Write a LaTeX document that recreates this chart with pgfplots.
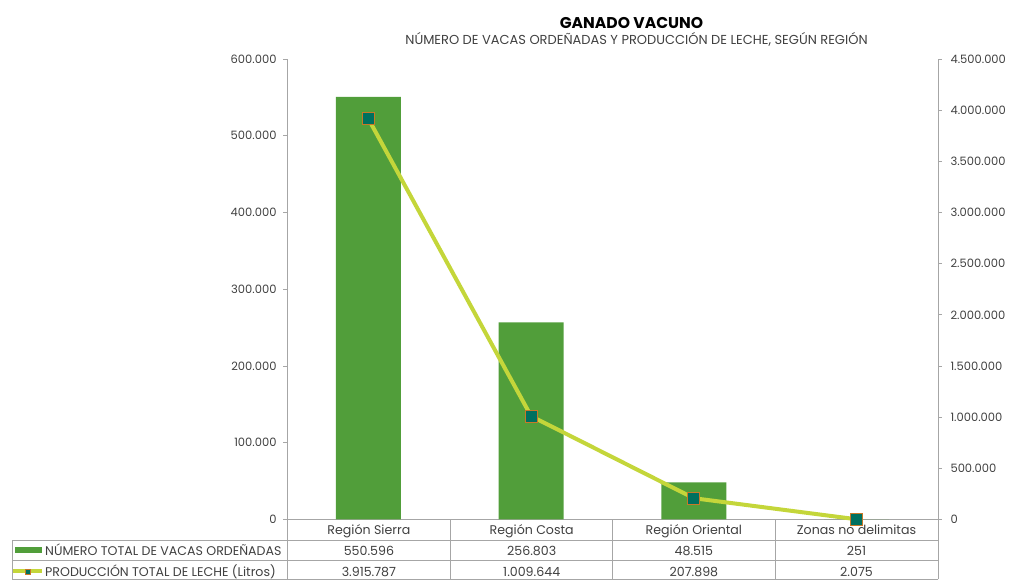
\documentclass[border=0pt]{standalone}
\usepackage{fontspec}
\setmainfont{Poppins}
\usepackage{pgfplots}
\pgfplotsset{compat=1.18}
\definecolor{bargreen}{HTML}{519E3A}
\definecolor{linegreen}{HTML}{C4D63A}
\definecolor{mkteal}{HTML}{00705F}
\definecolor{mkorange}{HTML}{C87828}
\definecolor{txt}{HTML}{404040}
\definecolor{gridc}{HTML}{A6A6A6}
\begin{document}
\begin{tikzpicture}[x=1bp,y=1bp]
\path[use as bounding box] (0,0) rectangle (1010,580);
% title
\node[anchor=base, inner sep=0pt, font=\bfseries\fontsize{15.6bp}{17bp}\selectfont, text=black] at (631.5,551.7) {GANADO VACUNO};
\node[anchor=base, inner sep=0pt, font=\fontsize{13bp}{15bp}\selectfont, text=txt] at (636.5,535) {NÚMERO DE VACAS ORDEÑADAS Y PRODUCCIÓN DE LECHE, SEGÚN REGIÓN};
% data table
\begin{scope}[gridc, line width=0.75bp]
\draw (287,60.5) -- (938,60.5);
\draw (12,39.3) -- (938,39.3);
\draw (12,19.3) -- (938,19.3);
\draw (12,0.5) -- (938,0.5);
\draw (12,0.5) -- (12,39.3);
\foreach \xx in {287,450.7,612.7,775,938} {\draw (\xx,0.5) -- (\xx,60.5);}
\end{scope}
\begin{scope}[every node/.style={font=\fontsize{12.6bp}{14bp}\selectfont, text=txt, inner sep=0pt, anchor=base}]
\node at (368.9,45) {Región Sierra};
\node at (531.7,45) {Región Costa};
\node at (693.9,45) {Región Oriental};
\node at (856.5,45) {Zonas no delimitas};
\node at (368.9,24.3) {550.596};
\node at (531.7,24.3) {256.803};
\node at (693.9,24.3) {48.515};
\node at (856.5,24.3) {251};
\node at (368.9,3.6) {3.915.787};
\node at (531.7,3.6) {1.009.644};
\node at (693.9,3.6) {207.898};
\node at (856.5,3.6) {2.075};
\node[anchor=base west] at (45,24.3) {NÚMERO TOTAL DE VACAS ORDEÑADAS};
\node[anchor=base west] at (45,3.6) {PRODUCCIÓN TOTAL DE LECHE (Litros)};
\end{scope}
\fill[bargreen] (15,27) rectangle (42,33);
\draw[linegreen, line width=4bp] (13,8.5) -- (42,8.5);
\filldraw[fill=mkteal, draw=mkorange, line width=0.6bp] (25.5,6) rectangle (30.5,11);
% bars, left axis
\begin{axis}[
  at={(287bp,60.5bp)}, anchor=south west, scale only axis,
  width=651bp, height=460.5bp,
  xmin=-0.5, xmax=3.5, ymin=0, ymax=600000,
  axis x line=none, axis y line*=left,
  ytick={0,100000,200000,300000,400000,500000,600000},
  scaled y ticks=false,
  yticklabel style={font=\fontsize{11.5bp}{13bp}\selectfont, text=txt, xshift=-3bp,
    /pgf/number format/.cd, fixed, 1000 sep={.}, assume math mode=true},
  tick align=outside, major tick length=4bp,
  tick style={gridc, line width=0.75bp},
  axis line style={gridc, line width=0.75bp},
  ybar, bar width=65bp, clip=false,
]
\addplot[fill=bargreen, draw=none] coordinates {(0,550596) (1,256803) (2,48515) (3,251)};
\end{axis}
% line, right axis
\begin{axis}[
  at={(287bp,60.5bp)}, anchor=south west, scale only axis,
  width=651bp, height=460.5bp,
  xmin=-0.5, xmax=3.5, ymin=0, ymax=4500000,
  axis x line=none, axis y line*=right,
  ytick={0,500000,1000000,1500000,2000000,2500000,3000000,3500000,4000000,4500000},
  scaled y ticks=false,
  yticklabel style={font=\fontsize{11.5bp}{13bp}\selectfont, text=txt, xshift=5bp,
    /pgf/number format/.cd, fixed, 1000 sep={.}, assume math mode=true},
  tick align=outside, major tick length=4bp,
  tick style={gridc, line width=0.75bp},
  axis line style={gridc, line width=0.75bp},
  clip=false,
]
\addplot[linegreen, line width=4bp, mark=square*, mark size=6bp,
  mark options={fill=mkteal, draw=mkorange, line width=1bp}]
  coordinates {(0,3915787) (1,1009644) (2,207898) (3,2075)};
\end{axis}
\end{tikzpicture}
\end{document}
